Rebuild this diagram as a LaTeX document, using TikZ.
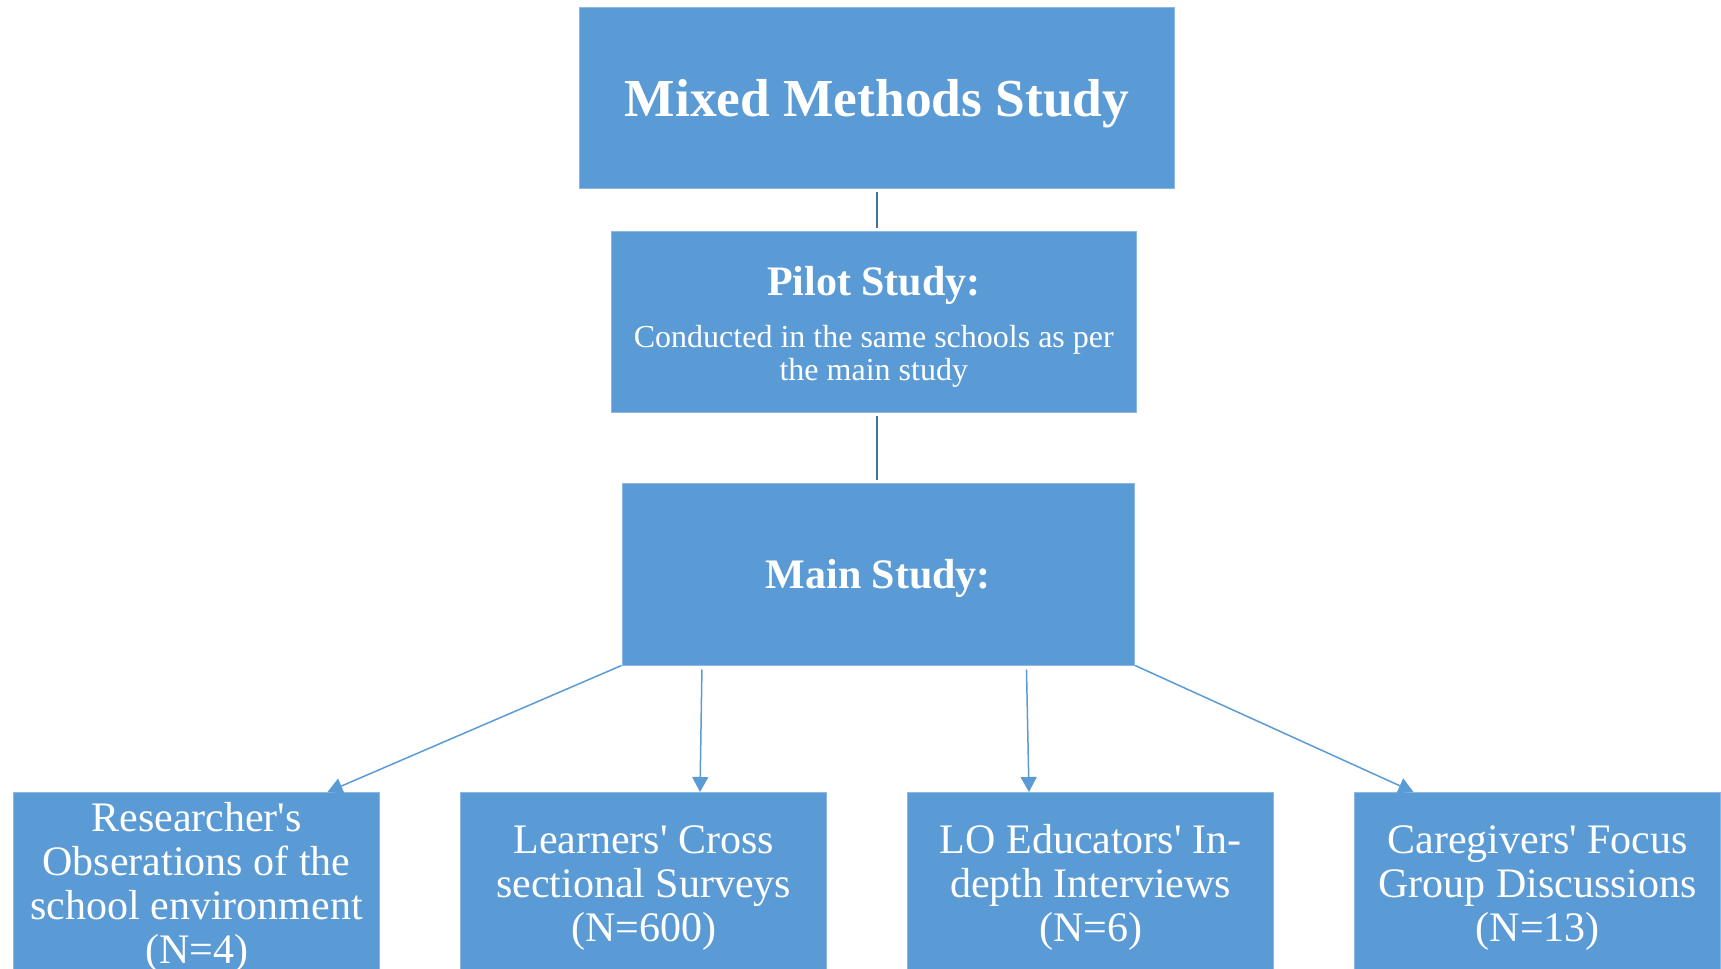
\documentclass[tikz,border=0pt]{standalone}
\usepackage{fontspec}
\setmainfont{Liberation Serif}
\usetikzlibrary{arrows.meta}
\definecolor{boxblue}{HTML}{5B9BD5}
\definecolor{boxedge}{HTML}{8DB8E3}
\definecolor{linkdark}{HTML}{41719C}
\newcommand{\apos}{\textquotesingle}
% invisible strut that lowers a text block inside its box
\newcommand{\topstrut}[1]{\rule{0pt}{#1}}

\tikzset{
  blockbox/.style={rectangle, fill=boxblue, draw=boxedge, line width=0.5pt,
    inner sep=0pt, align=center, text=white},
  leafbox/.style={blockbox, minimum width=183pt, minimum height=90.5pt,
    font=\fontsize{21}{22}\selectfont},
  stem/.style={draw=linkdark, line width=1.2pt},
  branch/.style={draw=boxblue, line width=0.75pt,
    -{Triangle[length=7.5pt,width=8pt]}}
}

\begin{document}
\begin{tikzpicture}[x=0.5pt,y=-0.5pt]
\useasboundingbox (0,0) rectangle (1721,969);
\clip (0,0) rectangle (1721,969);

% top of the hierarchy
\node[blockbox, minimum width=297.5pt, minimum height=90.5pt, text depth=0pt,
      font=\fontsize{26.7}{30}\selectfont\bfseries] (mixed) at (877,98)
  {Mixed Methods Study};

\node[blockbox, minimum width=262.4pt, minimum height=90.6pt,
      font=\fontsize{16}{16.5}\selectfont] (pilot) at (873.8,322.3)
  {{\fontsize{21}{16.5}\selectfont\bfseries\topstrut{18.7pt}Pilot Study:}\\[9.5pt]
   Conducted in the same schools as per\\
   the main study};

\node[blockbox, minimum width=256.3pt, minimum height=91pt, text depth=0pt,
      font=\fontsize{21}{24}\selectfont\bfseries] (main) at (878.3,574)
  {Main Study:};

% data collection strands
\node[leafbox] (obs) at (196.6,883)
  {\topstrut{18.5pt}Researcher\apos s\\Obserations of the\\school environment\\(N=4)};
\node[leafbox] (survey) at (643.7,883)
  {\topstrut{18.5pt}Learners\apos{} Cross\\sectional Surveys\\(N=600)};
\node[leafbox] (interview) at (1090.6,883)
  {\topstrut{18.5pt}LO Educators\apos{} In-\\depth Interviews\\(N=6)};
\node[leafbox] (focus) at (1537.8,883)
  {\topstrut{18.5pt}Caregivers\apos{} Focus\\Group Discussions\\(N=13)};

% vertical links between study phases
\draw[stem, shorten <=1.5pt, shorten >=1.5pt] (mixed.south) -- (mixed.south |- pilot.north);
\draw[stem, shorten <=1.5pt, shorten >=1.5pt] (mixed.south |- pilot.south) -- (mixed.south |- main.north);

% arrows to the strands
\draw[branch] (main.south west) -- (327.5,0 |- obs.north);
\draw[branch, shorten <=2pt] (702,0 |- main.south) -- (700,0 |- survey.north);
\draw[branch, shorten <=2pt] (1026.4,0 |- main.south) -- (1029,0 |- interview.north);
\draw[branch] (main.south east) -- (1413.5,0 |- focus.north);
\end{tikzpicture}
\end{document}
